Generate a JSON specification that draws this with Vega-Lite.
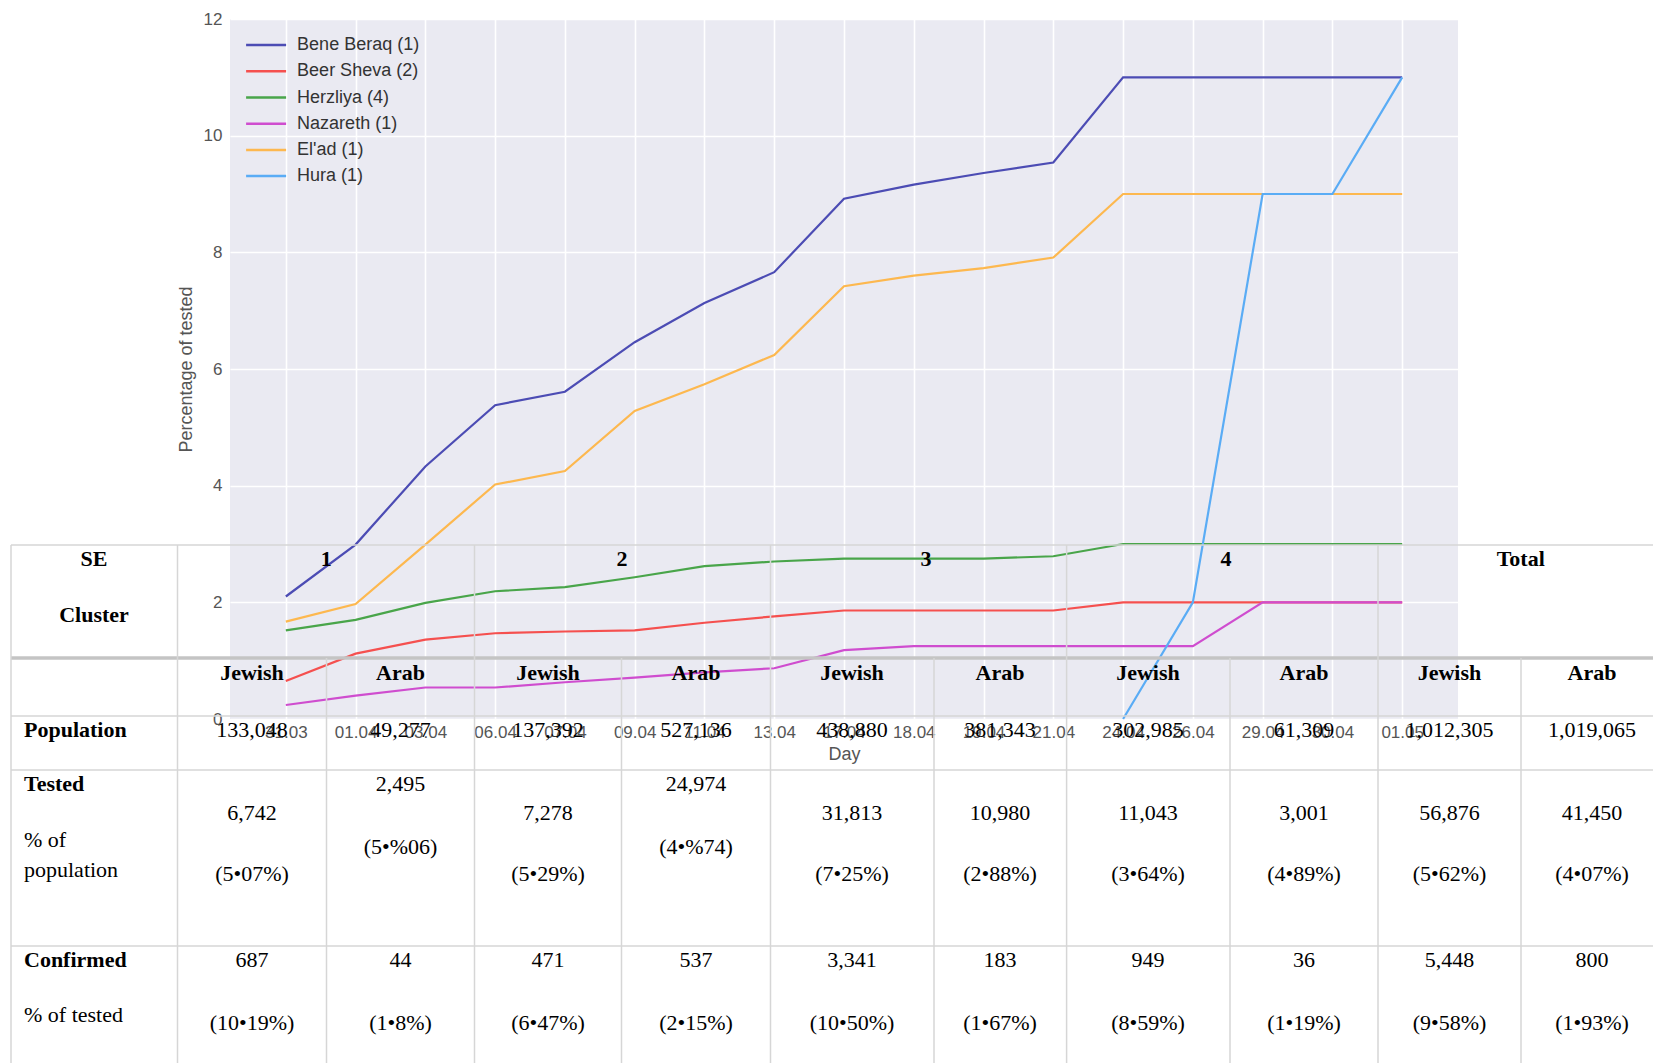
{
  "$schema": "https://vega.github.io/schema/vega-lite/v6.json",
  "width": 1228,
  "height": 700,
  "autosize": {"type": "none"},
  "padding": {"left": 230, "top": 19, "right": 195, "bottom": 344},
  "background": "white",
  "config": {
    "view": {"fill": "#EAEAF2", "stroke": null},
    "axis": {
      "labelFont": "Liberation Sans",
      "titleFont": "Liberation Sans",
      "labelFontSize": 17,
      "titleFontSize": 18,
      "titleFontWeight": "normal",
      "labelColor": "#555555",
      "titleColor": "#555555",
      "domain": false,
      "ticks": false,
      "gridColor": "#ffffff",
      "gridWidth": 1.6
    }
  },
  "datasets": {
    "lines": [
      {"day": "31.03", "city": "Bene Beraq (1)", "pct": 2.10},
      {"day": "01.04", "city": "Bene Beraq (1)", "pct": 2.99},
      {"day": "03.04", "city": "Bene Beraq (1)", "pct": 4.33},
      {"day": "06.04", "city": "Bene Beraq (1)", "pct": 5.38},
      {"day": "07.04", "city": "Bene Beraq (1)", "pct": 5.61},
      {"day": "09.04", "city": "Bene Beraq (1)", "pct": 6.46},
      {"day": "11.04", "city": "Bene Beraq (1)", "pct": 7.13},
      {"day": "13.04", "city": "Bene Beraq (1)", "pct": 7.66},
      {"day": "17.04", "city": "Bene Beraq (1)", "pct": 8.92},
      {"day": "18.04", "city": "Bene Beraq (1)", "pct": 9.16},
      {"day": "19.04", "city": "Bene Beraq (1)", "pct": 9.36},
      {"day": "21.04", "city": "Bene Beraq (1)", "pct": 9.54},
      {"day": "24.04", "city": "Bene Beraq (1)", "pct": 11.0},
      {"day": "26.04", "city": "Bene Beraq (1)", "pct": 11.0},
      {"day": "29.04", "city": "Bene Beraq (1)", "pct": 11.0},
      {"day": "30.04", "city": "Bene Beraq (1)", "pct": 11.0},
      {"day": "01.05", "city": "Bene Beraq (1)", "pct": 11.0},
      {"day": "31.03", "city": "Beer Sheva (2)", "pct": 0.65},
      {"day": "01.04", "city": "Beer Sheva (2)", "pct": 1.12},
      {"day": "03.04", "city": "Beer Sheva (2)", "pct": 1.36},
      {"day": "06.04", "city": "Beer Sheva (2)", "pct": 1.47},
      {"day": "07.04", "city": "Beer Sheva (2)", "pct": 1.50},
      {"day": "09.04", "city": "Beer Sheva (2)", "pct": 1.52},
      {"day": "11.04", "city": "Beer Sheva (2)", "pct": 1.65},
      {"day": "13.04", "city": "Beer Sheva (2)", "pct": 1.76},
      {"day": "17.04", "city": "Beer Sheva (2)", "pct": 1.86},
      {"day": "18.04", "city": "Beer Sheva (2)", "pct": 1.86},
      {"day": "19.04", "city": "Beer Sheva (2)", "pct": 1.86},
      {"day": "21.04", "city": "Beer Sheva (2)", "pct": 1.86},
      {"day": "24.04", "city": "Beer Sheva (2)", "pct": 2.0},
      {"day": "26.04", "city": "Beer Sheva (2)", "pct": 2.0},
      {"day": "29.04", "city": "Beer Sheva (2)", "pct": 2.0},
      {"day": "30.04", "city": "Beer Sheva (2)", "pct": 2.0},
      {"day": "01.05", "city": "Beer Sheva (2)", "pct": 2.0},
      {"day": "31.03", "city": "Herzliya (4)", "pct": 1.52},
      {"day": "01.04", "city": "Herzliya (4)", "pct": 1.70},
      {"day": "03.04", "city": "Herzliya (4)", "pct": 1.99},
      {"day": "06.04", "city": "Herzliya (4)", "pct": 2.19},
      {"day": "07.04", "city": "Herzliya (4)", "pct": 2.26},
      {"day": "09.04", "city": "Herzliya (4)", "pct": 2.43},
      {"day": "11.04", "city": "Herzliya (4)", "pct": 2.62},
      {"day": "13.04", "city": "Herzliya (4)", "pct": 2.70},
      {"day": "17.04", "city": "Herzliya (4)", "pct": 2.75},
      {"day": "18.04", "city": "Herzliya (4)", "pct": 2.75},
      {"day": "19.04", "city": "Herzliya (4)", "pct": 2.75},
      {"day": "21.04", "city": "Herzliya (4)", "pct": 2.79},
      {"day": "24.04", "city": "Herzliya (4)", "pct": 3.0},
      {"day": "26.04", "city": "Herzliya (4)", "pct": 3.0},
      {"day": "29.04", "city": "Herzliya (4)", "pct": 3.0},
      {"day": "30.04", "city": "Herzliya (4)", "pct": 3.0},
      {"day": "01.05", "city": "Herzliya (4)", "pct": 3.0},
      {"day": "31.03", "city": "Nazareth (1)", "pct": 0.24},
      {"day": "01.04", "city": "Nazareth (1)", "pct": 0.40},
      {"day": "03.04", "city": "Nazareth (1)", "pct": 0.54},
      {"day": "06.04", "city": "Nazareth (1)", "pct": 0.54},
      {"day": "07.04", "city": "Nazareth (1)", "pct": 0.63},
      {"day": "09.04", "city": "Nazareth (1)", "pct": 0.71},
      {"day": "11.04", "city": "Nazareth (1)", "pct": 0.80},
      {"day": "13.04", "city": "Nazareth (1)", "pct": 0.87},
      {"day": "17.04", "city": "Nazareth (1)", "pct": 1.18},
      {"day": "18.04", "city": "Nazareth (1)", "pct": 1.25},
      {"day": "19.04", "city": "Nazareth (1)", "pct": 1.25},
      {"day": "21.04", "city": "Nazareth (1)", "pct": 1.25},
      {"day": "24.04", "city": "Nazareth (1)", "pct": 1.25},
      {"day": "26.04", "city": "Nazareth (1)", "pct": 1.25},
      {"day": "29.04", "city": "Nazareth (1)", "pct": 2.0},
      {"day": "30.04", "city": "Nazareth (1)", "pct": 2.0},
      {"day": "01.05", "city": "Nazareth (1)", "pct": 2.0},
      {"day": "31.03", "city": "El'ad (1)", "pct": 1.67},
      {"day": "01.04", "city": "El'ad (1)", "pct": 1.97},
      {"day": "03.04", "city": "El'ad (1)", "pct": 2.99},
      {"day": "06.04", "city": "El'ad (1)", "pct": 4.02},
      {"day": "07.04", "city": "El'ad (1)", "pct": 4.25},
      {"day": "09.04", "city": "El'ad (1)", "pct": 5.28},
      {"day": "11.04", "city": "El'ad (1)", "pct": 5.74},
      {"day": "13.04", "city": "El'ad (1)", "pct": 6.24},
      {"day": "17.04", "city": "El'ad (1)", "pct": 7.42},
      {"day": "18.04", "city": "El'ad (1)", "pct": 7.60},
      {"day": "19.04", "city": "El'ad (1)", "pct": 7.73},
      {"day": "21.04", "city": "El'ad (1)", "pct": 7.91},
      {"day": "24.04", "city": "El'ad (1)", "pct": 9.0},
      {"day": "26.04", "city": "El'ad (1)", "pct": 9.0},
      {"day": "29.04", "city": "El'ad (1)", "pct": 9.0},
      {"day": "30.04", "city": "El'ad (1)", "pct": 9.0},
      {"day": "01.05", "city": "El'ad (1)", "pct": 9.0},
      {"day": "24.04", "city": "Hura (1)", "pct": 0.0},
      {"day": "26.04", "city": "Hura (1)", "pct": 2.0},
      {"day": "29.04", "city": "Hura (1)", "pct": 9.0},
      {"day": "30.04", "city": "Hura (1)", "pct": 9.0},
      {"day": "01.05", "city": "Hura (1)", "pct": 11.0}
    ],
    "hrules": [
      {"row": 0, "from": 0, "to": 11},
      {"row": 2, "from": 0, "to": 11},
      {"row": 3, "from": 0, "to": 11},
      {"row": 4, "from": 0, "to": 11}
    ],
    "thick": [
      {"row": 1, "from": 0, "to": 11}
    ],
    "vrules": [
      {"edge": 0, "top": 0, "bottom": 5},
      {"edge": 1, "top": 0, "bottom": 5},
      {"edge": 2, "top": 1, "bottom": 5},
      {"edge": 3, "top": 0, "bottom": 5},
      {"edge": 4, "top": 1, "bottom": 5},
      {"edge": 5, "top": 0, "bottom": 5},
      {"edge": 6, "top": 1, "bottom": 5},
      {"edge": 7, "top": 0, "bottom": 5},
      {"edge": 8, "top": 1, "bottom": 5},
      {"edge": 9, "top": 0, "bottom": 5},
      {"edge": 10, "top": 1, "bottom": 5}
    ],
    "headBold": [
      {"text": "SE", "col": 0, "line": 0},
      {"text": "Cluster", "col": 0, "line": 1},
      {"text": "1", "col": 1.5, "line": 0},
      {"text": "2", "col": 3.5, "line": 0},
      {"text": "3", "col": 5.5, "line": 0},
      {"text": "4", "col": 7.5, "line": 0},
      {"text": "Total", "col": 9.5, "line": 0},
      {"text": "Jewish", "col": 1, "line": 2},
      {"text": "Arab", "col": 2, "line": 2},
      {"text": "Jewish", "col": 3, "line": 2},
      {"text": "Arab", "col": 4, "line": 2},
      {"text": "Jewish", "col": 5, "line": 2},
      {"text": "Arab", "col": 6, "line": 2},
      {"text": "Jewish", "col": 7, "line": 2},
      {"text": "Arab", "col": 8, "line": 2},
      {"text": "Jewish", "col": 9, "line": 2},
      {"text": "Arab", "col": 10, "line": 2}
    ],
    "labelsBold": [
      {"text": "Population", "col": 0, "line": 3},
      {"text": "Tested", "col": 0, "line": 4},
      {"text": "Confirmed", "col": 0, "line": 10}
    ],
    "labelsRegular": [
      {"text": "% of", "col": 0, "line": 6},
      {"text": "population", "col": 0, "line": 8},
      {"text": "% of tested", "col": 0, "line": 11}
    ],
    "values": [
      {"text": "133,048", "col": 1, "line": 3},
      {"text": "49,277", "col": 2, "line": 3},
      {"text": "137,392", "col": 3, "line": 3},
      {"text": "527,136", "col": 4, "line": 3},
      {"text": "438,880", "col": 5, "line": 3},
      {"text": "381,343", "col": 6, "line": 3},
      {"text": "302,985", "col": 7, "line": 3},
      {"text": "61,309", "col": 8, "line": 3},
      {"text": "1,012,305", "col": 9, "line": 3},
      {"text": "1,019,065", "col": 10, "line": 3},
      {"text": "6,742", "col": 1, "line": 5},
      {"text": "(5•07%)", "col": 1, "line": 9},
      {"text": "2,495", "col": 2, "line": 4},
      {"text": "(5•%06)", "col": 2, "line": 7},
      {"text": "7,278", "col": 3, "line": 5},
      {"text": "(5•29%)", "col": 3, "line": 9},
      {"text": "24,974", "col": 4, "line": 4},
      {"text": "(4•%74)", "col": 4, "line": 7},
      {"text": "31,813", "col": 5, "line": 5},
      {"text": "(7•25%)", "col": 5, "line": 9},
      {"text": "10,980", "col": 6, "line": 5},
      {"text": "(2•88%)", "col": 6, "line": 9},
      {"text": "11,043", "col": 7, "line": 5},
      {"text": "(3•64%)", "col": 7, "line": 9},
      {"text": "3,001", "col": 8, "line": 5},
      {"text": "(4•89%)", "col": 8, "line": 9},
      {"text": "56,876", "col": 9, "line": 5},
      {"text": "(5•62%)", "col": 9, "line": 9},
      {"text": "41,450", "col": 10, "line": 5},
      {"text": "(4•07%)", "col": 10, "line": 9},
      {"text": "687", "col": 1, "line": 10},
      {"text": "44", "col": 2, "line": 10},
      {"text": "471", "col": 3, "line": 10},
      {"text": "537", "col": 4, "line": 10},
      {"text": "3,341", "col": 5, "line": 10},
      {"text": "183", "col": 6, "line": 10},
      {"text": "949", "col": 7, "line": 10},
      {"text": "36", "col": 8, "line": 10},
      {"text": "5,448", "col": 9, "line": 10},
      {"text": "800", "col": 10, "line": 10},
      {"text": "(10•19%)", "col": 1, "line": 12},
      {"text": "(1•8%)", "col": 2, "line": 12},
      {"text": "(6•47%)", "col": 3, "line": 12},
      {"text": "(2•15%)", "col": 4, "line": 12},
      {"text": "(10•50%)", "col": 5, "line": 12},
      {"text": "(1•67%)", "col": 6, "line": 12},
      {"text": "(8•59%)", "col": 7, "line": 12},
      {"text": "(1•19%)", "col": 8, "line": 12},
      {"text": "(9•58%)", "col": 9, "line": 12},
      {"text": "(1•93%)", "col": 10, "line": 12}
    ]
  },
  "layer": [
    {
      "data": {"name": "lines"},
      "mark": {"type": "line", "strokeWidth": 2.2},
      "encoding": {
        "x": {
          "field": "day", "type": "ordinal", "sort": null,
          "scale": {"type": "point", "padding": 0.8,
            "domain": ["31.03","01.04","03.04","06.04","07.04","09.04","11.04","13.04","17.04","18.04","19.04","21.04","24.04","26.04","29.04","30.04","01.05"]},
          "axis": {"title": "Day", "labelAngle": 0, "grid": true, "labelOverlap": false, "labelPadding": 5, "titlePadding": 5}
        },
        "y": {
          "field": "pct", "type": "quantitative",
          "scale": {"domain": [0, 12], "nice": false},
          "axis": {"title": "Percentage of tested", "values": [0, 2, 4, 6, 8, 10, 12], "grid": true, "labelPadding": 8, "titlePadding": 8}
        },
        "color": {
          "field": "city", "type": "nominal",
          "scale": {
            "domain": ["Bene Beraq (1)", "Beer Sheva (2)", "Herzliya (4)", "Nazareth (1)", "El'ad (1)", "Hura (1)"],
            "range": ["#4c4cb4", "#f5504f", "#49a54a", "#cf4dcf", "#fdb84f", "#5aacf5"]
          },
          "legend": {
            "title": null, "orient": "none", "legendX": 24.6, "legendY": 14.6, "padding": 0,
            "symbolType": "M-2,0H2", "symbolSize": 400, "symbolStrokeWidth": 2.5,
            "labelFont": "Liberation Sans", "labelFontSize": 18, "labelColor": "#333333",
            "labelOffset": 19.5, "rowPadding": 5.2
          }
        }
      }
    },
    {
      "data": {"name": "hrules"},
      "mark": {"type": "rule", "color": "#d6d6d6", "strokeWidth": 1.5},
      "encoding": {
        "x": {"field": "from", "type": "quantitative", "axis": null,
          "scale": {"domain": [0,1,2,3,4,5,6,7,8,9,10,11], "range": [-219,-52.5,96.5,244.5,391.5,540.5,704,836.6,1000,1148,1291,1433], "nice": false, "zero": false}},
        "x2": {"field": "to"},
        "y": {"field": "row", "type": "quantitative", "axis": null,
          "scale": {"domain": [0,1,2,3,4,5], "range": [526,639,697,751,927,1044], "nice": false, "zero": false}}
      }
    },
    {
      "data": {"name": "thick"},
      "mark": {"type": "rule", "color": "#c4c4c4", "strokeWidth": 3.5},
      "encoding": {
        "x": {"field": "from", "type": "quantitative", "axis": null,
          "scale": {"domain": [0,1,2,3,4,5,6,7,8,9,10,11], "range": [-219,-52.5,96.5,244.5,391.5,540.5,704,836.6,1000,1148,1291,1433], "nice": false, "zero": false}},
        "x2": {"field": "to"},
        "y": {"field": "row", "type": "quantitative", "axis": null,
          "scale": {"domain": [0,1,2,3,4,5], "range": [526,639,697,751,927,1044], "nice": false, "zero": false}}
      }
    },
    {
      "data": {"name": "vrules"},
      "mark": {"type": "rule", "color": "#d6d6d6", "strokeWidth": 1.5},
      "encoding": {
        "x": {"field": "edge", "type": "quantitative", "axis": null,
          "scale": {"domain": [0,1,2,3,4,5,6,7,8,9,10,11], "range": [-219,-52.5,96.5,244.5,391.5,540.5,704,836.6,1000,1148,1291,1433], "nice": false, "zero": false}},
        "y": {"field": "top", "type": "quantitative", "axis": null,
          "scale": {"domain": [0,1,2,3,4,5], "range": [526,639,697,751,927,1044], "nice": false, "zero": false}},
        "y2": {"field": "bottom"}
      }
    },
    {
      "data": {"name": "headBold"},
      "mark": {"type": "text", "font": "Liberation Serif", "fontSize": 22, "fontWeight": "bold", "color": "#000000", "align": "center", "baseline": "middle"},
      "encoding": {
        "x": {"field": "col", "type": "quantitative", "axis": null,
          "scale": {"domain": [0,1,2,3,4,5,6,7,8,9,10], "range": [-136,22,170.5,318,466,622,770,918,1074,1219.5,1362], "nice": false, "zero": false}},
        "y": {"field": "line", "type": "quantitative", "axis": null,
          "scale": {"domain": [0,1,2,3,4,5,6,7,8,9,10,11,12], "range": [539.7,595.6,653.6,710.5,765.3,793.8,821.2,827.5,850.7,855,941.4,996.2,1003.6], "nice": false, "zero": false}},
        "text": {"field": "text"}
      }
    },
    {
      "data": {"name": "values"},
      "mark": {"type": "text", "font": "Liberation Serif", "fontSize": 22, "color": "#000000", "align": "center", "baseline": "middle"},
      "encoding": {
        "x": {"field": "col", "type": "quantitative", "axis": null,
          "scale": {"domain": [0,1,2,3,4,5,6,7,8,9,10], "range": [-136,22,170.5,318,466,622,770,918,1074,1219.5,1362], "nice": false, "zero": false}},
        "y": {"field": "line", "type": "quantitative", "axis": null,
          "scale": {"domain": [0,1,2,3,4,5,6,7,8,9,10,11,12], "range": [539.7,595.6,653.6,710.5,765.3,793.8,821.2,827.5,850.7,855,941.4,996.2,1003.6], "nice": false, "zero": false}},
        "text": {"field": "text"}
      }
    },
    {
      "data": {"name": "labelsBold"},
      "mark": {"type": "text", "font": "Liberation Serif", "fontSize": 22, "fontWeight": "bold", "color": "#000000", "align": "left", "baseline": "middle"},
      "encoding": {
        "x": {"field": "col", "type": "quantitative", "axis": null,
          "scale": {"domain": [0, 1], "range": [-206, -52.5], "nice": false, "zero": false}},
        "y": {"field": "line", "type": "quantitative", "axis": null,
          "scale": {"domain": [0,1,2,3,4,5,6,7,8,9,10,11,12], "range": [539.7,595.6,653.6,710.5,765.3,793.8,821.2,827.5,850.7,855,941.4,996.2,1003.6], "nice": false, "zero": false}},
        "text": {"field": "text"}
      }
    },
    {
      "data": {"name": "labelsRegular"},
      "mark": {"type": "text", "font": "Liberation Serif", "fontSize": 22, "color": "#000000", "align": "left", "baseline": "middle"},
      "encoding": {
        "x": {"field": "col", "type": "quantitative", "axis": null,
          "scale": {"domain": [0, 1], "range": [-206, -52.5], "nice": false, "zero": false}},
        "y": {"field": "line", "type": "quantitative", "axis": null,
          "scale": {"domain": [0,1,2,3,4,5,6,7,8,9,10,11,12], "range": [539.7,595.6,653.6,710.5,765.3,793.8,821.2,827.5,850.7,855,941.4,996.2,1003.6], "nice": false, "zero": false}},
        "text": {"field": "text"}
      }
    }
  ],
  "resolve": {
    "scale": {"x": "independent", "y": "independent"},
    "axis": {"x": "independent", "y": "independent"}
  }
}
